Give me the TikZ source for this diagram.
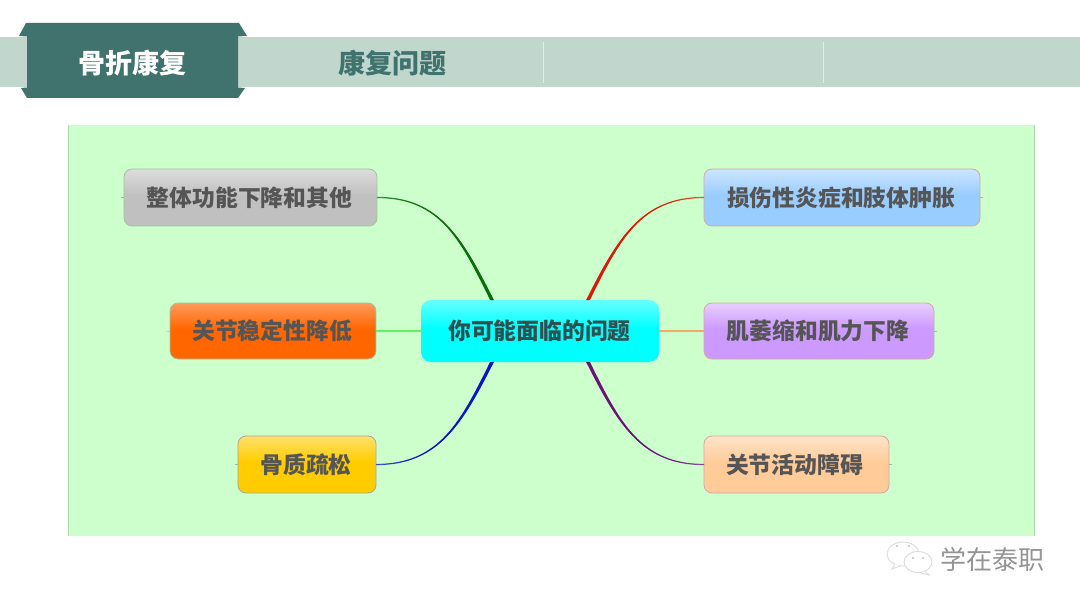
\documentclass[tikz,border=0pt]{standalone}
\usepackage{fontspec}
\setmainfont{Noto Sans CJK SC}
\usetikzlibrary{calc}
\definecolor{band}{HTML}{C1D7CE}
\definecolor{tabc}{HTML}{41736E}
\definecolor{panel}{HTML}{CCFFCC}
\definecolor{panelb}{HTML}{A8D8A8}
\definecolor{txt}{HTML}{555555}
\definecolor{bl}{HTML}{A3C4A3}
\definecolor{br}{HTML}{D4A8A0}
\definecolor{g1}{HTML}{DDDDDD}\definecolor{g2}{HTML}{C0C0C0}
\definecolor{o1}{HTML}{FF9A5C}\definecolor{o2}{HTML}{FF6600}
\definecolor{y1}{HTML}{FFE06A}\definecolor{y2}{HTML}{FFCC00}
\definecolor{b1}{HTML}{CCE5FF}\definecolor{b2}{HTML}{99CCFF}
\definecolor{p1}{HTML}{E8CFFF}\definecolor{p2}{HTML}{CC99FF}
\definecolor{h1}{HTML}{FFE3C9}\definecolor{h2}{HTML}{FFCC99}
\definecolor{c1}{HTML}{66FFFF}\definecolor{c2}{HTML}{00FFFF}
\definecolor{ctext}{HTML}{2F5050}
\definecolor{lgreen}{HTML}{3E9A3E}\definecolor{dgreen}{HTML}{0A6E0A}
\definecolor{lred}{HTML}{E0703A}\definecolor{dred}{HTML}{D81A0A}
\definecolor{lblue}{HTML}{4A62C8}\definecolor{dblue}{HTML}{0A14C8}
\definecolor{lpurple}{HTML}{8A5E98}\definecolor{dpurple}{HTML}{6A1278}
\definecolor{sgreen}{HTML}{66F066}\definecolor{sorange}{HTML}{EEAA66}
% gradient in the top part of the box only (box spans 25bp..75bp of the shading)
\newcommand{\topshade}[3]{\pgfdeclareverticalshading{#1}{100bp}{color(0bp)=(#3); color(52bp)=(#3); color(75bp)=(#2); color(100bp)=(#2)}}
\topshade{shgray}{g1}{g2}
\topshade{shorange}{o1}{o2}
\topshade{shyellow}{y1}{y2}
\topshade{shblue}{b1}{b2}
\topshade{shpurple}{p1}{p2}
\topshade{shpeach}{h1}{h2}
\topshade{shcyan}{c1}{c2}
\tikzset{
  topic/.style={rounded corners=8pt,line width=0.8pt,inner sep=0pt,text=txt,font=\fontsize{22.8}{24}\selectfont\bfseries,align=center},
  link/.style={line width=1.3pt,line cap=round},
  straightlink/.style={line width=1.7pt},
  stub/.style={line width=0.6pt},
  divider/.style={draw=white!55!band,line width=1pt},
  bubble/.style={draw=black!14,fill=white,line width=0.9pt},
  eye/.style={fill=black!25,draw=none,circle,inner sep=0pt,minimum size=2.4pt}
}
% tapered overlay: start, control 1, control 2, end, colour, x sign, y sign
\newcommand{\taper}[7]{\fill[#5] ($(#1)+(#6*1.9,0)$) .. controls ($(#2)+(#6*1.6,0)$) and ($(#3)+(0,#7*.8)$) .. (#4) .. controls ($(#3)+(0,-#7*.8)$) and ($(#2)+(-#6*1.6,0)$) .. ($(#1)+(-#6*1.9,0)$) -- cycle;}
\begin{document}
\begin{tikzpicture}[x=1pt,y=-1pt]
\useasboundingbox (0,0) rectangle (1080,607);
\fill[white] (0,0) rectangle (1080,607);
% header band
\fill[band] (0,37) rectangle (1080,87);
\draw[divider] (543.5,42) -- (543.5,83);
\draw[divider] (823,42) -- (823,83);
% tab
\fill[tabc] (19,36) -- (26,23) -- (239,23) -- (247,36) -- (238,36.5) -- (238,87.5) -- (245,88) -- (238,98) -- (27,98) -- (21,88) -- (27,87.5) -- (27,36.5) -- cycle;
\node[text=white,font=\fontsize{27}{29}\selectfont\bfseries,inner sep=0pt] (tab1) at (132,63) {骨折康复};
\node[text=tabc,font=\fontsize{27}{29}\selectfont\bfseries,inner sep=0pt] (tab2) at (392,63) {康复问题};
% panel
\fill[panel] (68,125) rectangle (1035,536);
\draw[panelb,line width=0.8pt] (68.5,125) -- (68.5,536);
\draw[panelb,line width=0.8pt] (1034.5,125) -- (1034.5,536);
% nodes
\node[topic,shading=shgray,draw=bl,minimum width=253pt,minimum height=57pt] (n1) at (250.5,197.5) {整体功能下降和其他\kern2pt};
\node[topic,shading=shorange,draw=bl,minimum width=206pt,minimum height=56pt] (n2) at (273,331) {关节稳定性降低\kern2pt};
\node[topic,shading=shyellow,draw=black!35,minimum width=138pt,minimum height=57pt] (n3) at (307,464.5) {骨质疏松\kern2pt};
\node[topic,shading=shblue,draw=br,minimum width=276pt,minimum height=57pt] (n4) at (842,197.5) {损伤性炎症和肢体肿胀\kern2pt};
\node[topic,shading=shpurple,draw=br,minimum width=230pt,minimum height=56pt] (n5) at (819,331) {肌萎缩和肌力下降\kern2pt};
\node[topic,shading=shpeach,draw=br,minimum width=185pt,minimum height=57pt] (n6) at (796.5,464.5) {关节活动障碍\kern4pt};
\node[topic,rounded corners=10pt,draw=none,shading=shcyan,text=ctext,minimum width=238pt,minimum height=62pt] (c) at (540,331) {你可能面临的问题\kern1pt};
% anchors on the central node and curve handles
\coordinate (cTL) at (492,300);
\coordinate (cBL) at (492,362);
\coordinate (cTR) at (588,300);
\coordinate (cBR) at (588,362);
\coordinate (h1a) at (462,240);
\coordinate (h1b) at ($(n1.east)+(63,0)$);
\coordinate (h4a) at (618,240);
\coordinate (h4b) at ($(n4.west)+(-63,0)$);
\coordinate (h3a) at (462,422);
\coordinate (h3b) at ($(n3.east)+(63,0)$);
\coordinate (h6a) at (618,422);
\coordinate (h6b) at ($(n6.west)+(-63,0)$);
% connectors
\draw[link,color=lgreen] (n1.east) .. controls (h1b) and (h1a) .. (cTL);
\taper{cTL}{h1a}{h1b}{n1.east}{dgreen}{-1}{1}
\draw[link,color=lred] (n4.west) .. controls (h4b) and (h4a) .. (cTR);
\taper{cTR}{h4a}{h4b}{n4.west}{dred}{1}{1}
\draw[link,color=lblue] (n3.east) .. controls (h3b) and (h3a) .. (cBL);
\taper{cBL}{h3a}{h3b}{n3.east}{dblue}{-1}{-1}
\draw[link,color=lpurple] (n6.west) .. controls (h6b) and (h6a) .. (cBR);
\taper{cBR}{h6a}{h6b}{n6.west}{dpurple}{1}{-1}
\draw[straightlink,color=sgreen] (n2.east) -- (c.west);
\draw[straightlink,color=sorange] (n5.west) -- (c.east);
% small stubs on outer sides
\draw[stub,color=black!25!panel] (n1.west) -- +(-3,0);
\draw[stub,color=black!15!panel] (n2.west) -- +(-3,0);
\draw[stub,color=blue!30!panel] (n3.west) -- +(-3,0);
\draw[stub,color=br] (n4.east) -- +(3,0);
\draw[stub,color=br] (n5.east) -- +(3,0);
\draw[stub,color=black!25!panel] (n6.east) -- +(3,0);
% watermark
\draw[bubble] (903,554) ellipse (16pt and 12pt);
\draw[bubble] (895,564) -- (892,569) -- (900,566);
\draw[bubble] (918,562) ellipse (14pt and 10.5pt);
\draw[bubble] (925,571) -- (929,575) -- (921,573);
\node[eye] (e1) at (897,546) {};
\node[eye] (e2) at (909,546) {};
\node[eye] (e3) at (913,558) {};
\node[eye] (e4) at (923,558) {};
\node[text=black!42,font=\fontsize{26}{28}\selectfont,inner sep=0pt] (wm) at (992,560) {学在泰职};
\end{tikzpicture}
\end{document}
